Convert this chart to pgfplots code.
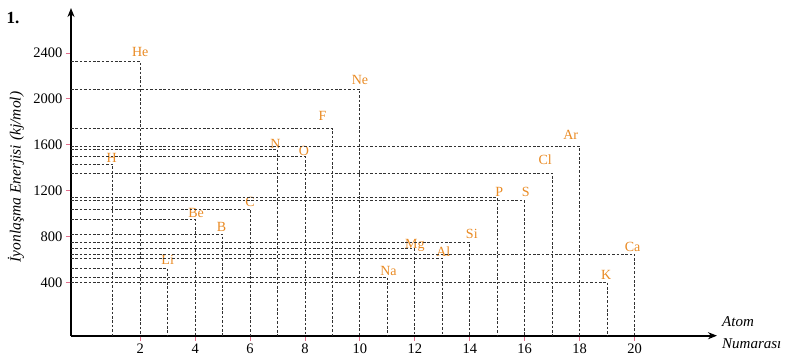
\documentclass[border=0pt]{standalone}
\usepackage{fontspec}
\setmainfont{Liberation Serif}
\usepackage{pgfplots}
\pgfplotsset{compat=1.18}
\usetikzlibrary{arrows.meta}
\definecolor{elem}{RGB}{233,138,35}
\definecolor{dashc}{RGB}{50,50,50}
\definecolor{tickc}{RGB}{226,110,140}
\tikzset{
  lbl/.style={font=\fontsize{14}{15}\selectfont, text=elem, anchor=south, inner sep=0pt, text depth=0pt},
  dl/.style={dashc, line width=1pt, dash pattern=on 2.6pt off 1.8pt},
}
\newcommand{\elem}[5]{%
  \addplot[dl] coordinates {(-0.52,#2) (#1,#2) (#1,-63)};
  \node[lbl, xshift=#4pt, yshift=#5pt] at (axis cs:#1,#2) {#3};
}
\begin{document}
\begin{tikzpicture}
\path[use as bounding box] (-71pt,-24.3pt) rectangle (729pt,335.7pt);
\begin{axis}[
  at={(0pt,0pt)}, anchor=south west,
  scale only axis, width=646pt, height=327.7pt,
  xmin=-0.52, xmax=23.0, ymin=-63, ymax=2793,
  axis lines=left,
  axis line style={line width=1.6pt, black, -{Stealth[length=9pt,width=7pt]}},
  xtick={2,4,...,20}, ytick={400,800,...,2400},
  tick align=outside, major tick length=5pt,
  tick style={draw=tickc, line width=1pt},
  tick label style={font=\fontsize{14.5}{16}\selectfont},
  /pgf/number format/assume math mode=true,
  /pgf/number format/set thousands separator={},
  scaled y ticks=false,
  clip=false,
]
% atomic number, energy, label, xshift, yshift
\elem{1}{1432}{H}{-1}{1.5}
\elem{2}{2325}{He}{0}{4.5}
\elem{3}{521}{Li}{0}{3.5}
\elem{4}{952}{Be}{1}{1.5}
\elem{5}{821}{B}{-1}{2.5}
\elem{6}{1041}{C}{0}{2.5}
\elem{7}{1562}{N}{-2}{0.5}
\elem{8}{1499}{O}{-1}{1}
\elem{9}{1741}{F}{-10}{8.5}
\elem{10}{2084}{Ne}{0}{4.5}
\elem{11}{446}{Na}{1}{1.5}
\elem{12}{693}{Mg}{0}{0.5}
\elem{13}{610}{Al}{1}{1.5}
\elem{14}{748}{Si}{2}{3.5}
\elem{15}{1140}{P}{2}{0.5}
\elem{16}{1111}{S}{1}{4.5}
\elem{17}{1353}{Cl}{-7}{8.5}
\elem{18}{1586}{Ar}{-9}{7}
\elem{19}{405}{K}{-1}{2.5}
\elem{20}{649}{Ca}{-2}{2.5}
\end{axis}
\node[font=\bfseries\fontsize{17}{18}\selectfont] at (-58pt,318pt) {1.};
\node[rotate=90, font=\itshape\fontsize{15.5}{16}\selectfont] at (-55pt,158.7pt) {İyonlaşma Enerjisi (kj/mol)};
\node[anchor=north west, align=left, inner sep=0pt, font=\itshape\fontsize{15}{22}\selectfont] at (651pt,19pt) {Atom\\Numarası};
\end{tikzpicture}
\end{document}
